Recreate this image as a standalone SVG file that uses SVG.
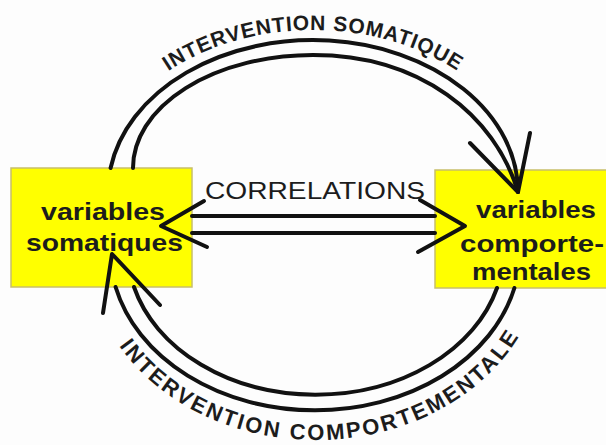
<svg xmlns="http://www.w3.org/2000/svg" width="606" height="445" viewBox="0 0 606 445">
<style>
.box{fill:#ffff00;stroke:#c8bf6a;stroke-width:1.5}
.lbl{font-family:"Liberation Sans",Arial,sans-serif;font-weight:bold;font-size:24px;fill:#1c1c1c}
.ln{fill:none;stroke:#111;stroke-width:4;stroke-linecap:round;stroke-linejoin:round}
.arc{font-family:"Liberation Sans",Arial,sans-serif;font-weight:bold;fill:#1c1c1c}
.cor{font-family:"Liberation Sans",Arial,sans-serif;font-size:23px;fill:#1c1c1c}
</style>
<defs>
<path id="topPath" d="M 96 192 A 217 162 0 0 1 530 192"/>
<path id="botPath" d="M 88 250 A 228 190 0 0 0 544 250"/>
</defs>
<rect width="606" height="445" fill="#fdfdfd"/>
<g id="somatiques">
<rect class="box" x="11" y="168" width="181" height="119"/>
<text class="lbl" x="41" y="220" textLength="124" lengthAdjust="spacingAndGlyphs">variables</text>
<text class="lbl" x="26" y="251" textLength="157" lengthAdjust="spacingAndGlyphs">somatiques</text>
</g>
<g id="comportementales">
<rect class="box" x="435" y="170" width="175" height="118"/>
<text class="lbl" x="476" y="218" textLength="120" lengthAdjust="spacingAndGlyphs">variables</text>
<text class="lbl" x="460" y="252" textLength="144" lengthAdjust="spacingAndGlyphs">comporte-</text>
<text class="lbl" x="472" y="280" textLength="119" lengthAdjust="spacingAndGlyphs">mentales</text>
</g>
<g id="connectors">
<!-- top arcs: intervention somatique -->
<path class="ln" d="M 110.6 168 A 205 152 0 0 1 518 192"/>
<path class="ln" d="M 133 168 A 180 113 0 0 1 313 55 C 420 55 495 115 518 192"/>
<polyline class="ln" points="470,143 518,192 530,133"/>
<!-- bottom arcs: intervention comportementale -->
<path class="ln" d="M 115.6 287 A 205 160 0 0 0 514.4 288"/>
<path class="ln" d="M 134 287 A 188 145 0 0 0 497 288"/>
<polyline class="ln" points="103,313 112,254 160,305"/>
<!-- correlations -->
<line class="ln" x1="192" y1="216" x2="435" y2="216"/>
<line class="ln" x1="192" y1="233" x2="435" y2="233"/>
<polyline class="ln" points="204,201 161,226 207,247"/>
<polyline class="ln" points="420,200 465,226 418,252"/>
<text class="cor" x="205" y="199" textLength="220" lengthAdjust="spacingAndGlyphs">CORRELATIONS</text>
<text class="arc" font-size="21" letter-spacing="0.8" text-anchor="middle"><textPath href="#topPath" startOffset="50%">INTERVENTION SOMATIQUE</textPath></text>
<text class="arc" font-size="22" letter-spacing="2.3" text-anchor="middle"><textPath href="#botPath" startOffset="51%">INTERVENTION COMPORTEMENTALE</textPath></text>
</g>
</svg>
